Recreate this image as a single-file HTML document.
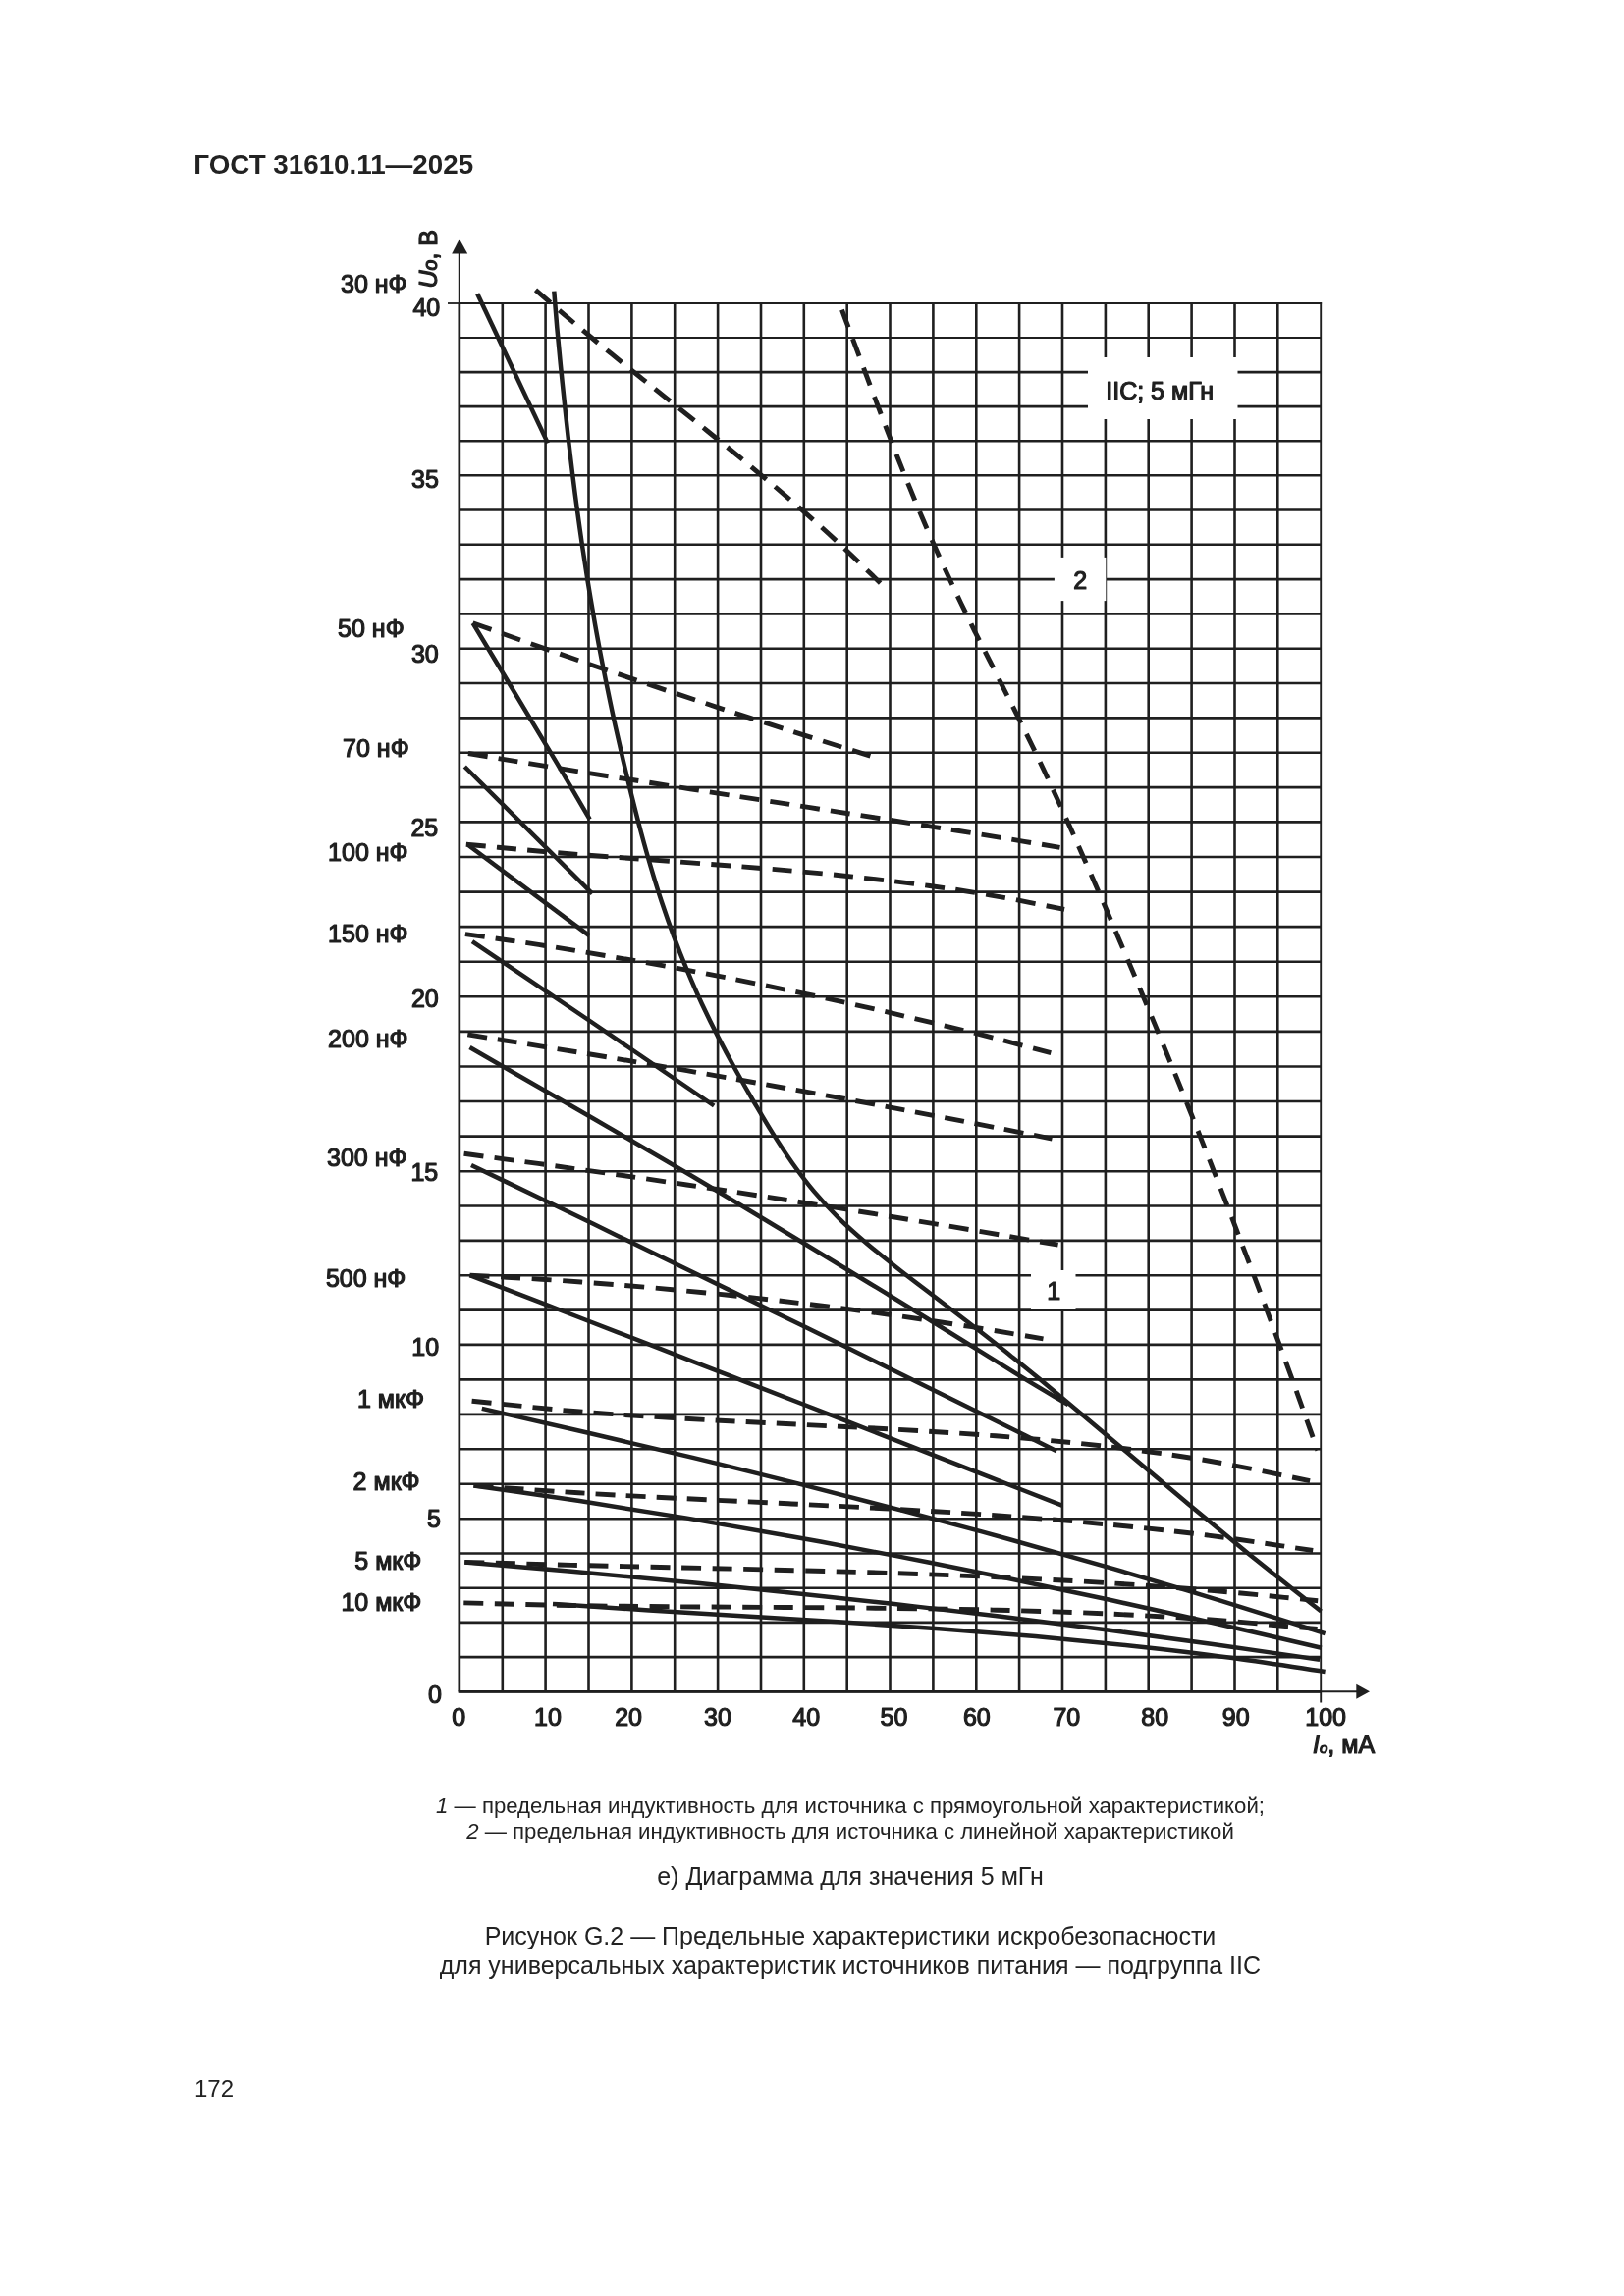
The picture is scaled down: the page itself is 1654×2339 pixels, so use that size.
<!DOCTYPE html>
<html lang="ru"><head><meta charset="utf-8"><title>ГОСТ 31610.11—2025</title>
<style>
html,body{margin:0;padding:0;background:#fff;}
body{width:1654px;height:2339px;position:relative;overflow:hidden;}
svg{position:absolute;left:0;top:0;display:block;will-change:transform;}
svg text{font-family:"Liberation Sans",Arial,sans-serif;fill:#1f1f1f;stroke:#1f1f1f;stroke-width:1.2px;stroke-linejoin:round;}
svg text.b{stroke:none;fill:#222;}
</style></head><body>
<svg width="1654" height="2339" viewBox="0 0 1654 2339">
<path d="M467.9 309.0V1723.3M511.8 309.0V1723.3M555.6 309.0V1723.3M599.5 309.0V1723.3M643.4 309.0V1723.3M687.2 309.0V1723.3M731.1 309.0V1723.3M775.0 309.0V1723.3M818.8 309.0V1723.3M862.7 309.0V1723.3M906.5 309.0V1723.3M950.4 309.0V1723.3M994.3 309.0V1723.3M1038.1 309.0V1723.3M1082.0 309.0V1723.3M1125.9 309.0V1723.3M1169.7 309.0V1723.3M1213.6 309.0V1723.3M1257.5 309.0V1723.3M1301.3 309.0V1723.3M467.9 1723.3H1345.2M467.9 1688.1H1345.2M467.9 1652.9H1345.2M467.9 1617.7H1345.2M467.9 1582.5H1345.2M467.9 1547.3H1345.2M467.9 1511.8H1345.2M467.9 1476.3H1345.2M467.9 1440.9H1345.2M467.9 1405.4H1345.2M467.9 1369.9H1345.2M467.9 1334.6H1345.2M467.9 1299.2H1345.2M467.9 1263.9H1345.2M467.9 1228.5H1345.2M467.9 1193.2H1345.2M467.9 1157.6H1345.2M467.9 1122.0H1345.2M467.9 1086.5H1345.2M467.9 1050.9H1345.2M467.9 1015.3H1345.2M467.9 979.7H1345.2M467.9 944.1H1345.2M467.9 908.6H1345.2M467.9 873.0H1345.2M467.9 837.4H1345.2M467.9 802.1H1345.2M467.9 766.7H1345.2M467.9 731.4H1345.2M467.9 696.0H1345.2M467.9 660.7H1345.2M467.9 625.4H1345.2M467.9 590.1H1345.2M467.9 554.8H1345.2M467.9 519.5H1345.2M467.9 484.2H1345.2M467.9 449.2H1345.2M467.9 414.1H1345.2M467.9 379.1H1345.2" stroke="#1f1f1f" stroke-width="2.6" fill="none"/>
<path d="M467.9 344.0H1345.2" stroke="#1f1f1f" stroke-width="2.1" fill="none"/>
<path d="M467.9 309.0H1346.1" stroke="#1f1f1f" stroke-width="1.9" fill="none"/>
<path d="M467.9 1724.3V250" stroke="#1f1f1f" stroke-width="2.2" fill="none"/>
<path d="M466.7 1723.3H1345.2" stroke="#1f1f1f" stroke-width="2.7" fill="none"/>
<path d="M1345.2 1723.3H1385" stroke="#1f1f1f" stroke-width="1.9" fill="none"/>
<path d="M456 309.0H467.9" stroke="#1f1f1f" stroke-width="1.8" fill="none"/>
<path d="M1345.2 308.0V1734.5" stroke="#1f1f1f" stroke-width="1.9" fill="none"/>
<path d="M467.9 243.5L460.2 258.6H476.2Z" fill="#1f1f1f"/>
<path d="M1395 1723.3L1381.3 1715.8V1730.8Z" fill="#1f1f1f"/>
<rect x="1108" y="364" width="152.5" height="63" fill="#fff"/>
<rect x="1073.9" y="567.9" width="52.4" height="44.2" fill="#fff"/>
<rect x="1050" y="1294" width="45.5" height="40" fill="#fff"/>
<path d="M486.2 299.2L557.9 451.4" stroke="#1f1f1f" stroke-width="4.5" fill="none"/>
<path d="M481.6 634.8C507.7 678.3 540.1 732.1 560.0 765.4C579.9 798.7 587.1 811.5 600.7 834.6" stroke="#1f1f1f" stroke-width="4.5" fill="none"/>
<path d="M473.3 781.0L603.2 910.3" stroke="#1f1f1f" stroke-width="4.5" fill="none"/>
<path d="M477.0 861.0L600.1 953.1" stroke="#1f1f1f" stroke-width="4.5" fill="none"/>
<path d="M481.0 959.2C520.7 986.0 559.0 1011.6 600.0 1039.5C641.0 1067.4 684.8 1097.5 727.2 1126.5" stroke="#1f1f1f" stroke-width="4.5" fill="none"/>
<path d="M478.5 1067.0C552.3 1109.8 628.7 1153.1 700.0 1195.3C771.3 1237.5 850.1 1285.7 906.5 1320.0C962.9 1354.3 1008.0 1382.9 1038.2 1401.4C1068.5 1419.9 1071.4 1421.1 1088.0 1431.0" stroke="#1f1f1f" stroke-width="4.5" fill="none"/>
<path d="M480.0 1187.0C504.8 1198.9 529.7 1210.9 554.5 1222.8C579.4 1234.8 604.2 1246.8 629.0 1258.9C653.9 1270.9 678.7 1283.0 703.5 1295.0C728.4 1307.1 753.2 1319.2 778.0 1331.4C802.9 1343.5 827.7 1355.7 852.6 1367.8C877.4 1380.0 902.2 1392.2 927.1 1404.5C951.9 1416.7 976.7 1429.0 1001.6 1441.3C1026.4 1453.5 1051.3 1465.9 1076.1 1478.2" stroke="#1f1f1f" stroke-width="4.5" fill="none"/>
<path d="M478.5 1299.1C503.6 1308.8 528.8 1318.5 553.9 1328.2C579.0 1337.9 604.2 1347.6 629.3 1357.3C654.4 1367.1 679.6 1376.8 704.7 1386.6C729.8 1396.3 755.0 1406.1 780.1 1415.8C805.2 1425.6 830.4 1435.4 855.5 1445.2C880.6 1455.0 905.8 1464.8 930.9 1474.6C956.0 1484.5 981.2 1494.3 1006.3 1504.1C1031.4 1514.0 1056.6 1523.9 1081.7 1533.7" stroke="#1f1f1f" stroke-width="4.5" fill="none"/>
<path d="M490.8 1434.9C526.6 1443.1 562.4 1451.1 598.1 1459.5C633.9 1467.8 669.7 1476.2 705.5 1484.9C741.3 1493.6 777.1 1502.4 812.8 1511.4C848.6 1520.4 884.4 1529.6 920.2 1539.1C956.0 1548.5 991.8 1558.1 1027.5 1568.0C1063.3 1577.9 1099.1 1588.0 1134.9 1598.4C1170.7 1608.8 1206.5 1619.5 1242.2 1630.4C1278.0 1641.4 1313.8 1652.9 1349.6 1664.1" stroke="#1f1f1f" stroke-width="4.5" fill="none"/>
<path d="M482.5 1513.4C518.5 1518.6 554.4 1523.6 590.4 1529.1C626.4 1534.6 662.4 1540.3 698.4 1546.4C734.3 1552.4 770.3 1558.7 806.3 1565.2C842.3 1571.7 878.2 1578.5 914.2 1585.4C950.2 1592.4 986.1 1599.6 1022.1 1607.0C1058.1 1614.4 1094.1 1622.0 1130.1 1629.8C1166.0 1637.6 1202.0 1645.6 1238.0 1653.8C1274.0 1662.0 1309.9 1670.5 1345.9 1678.8" stroke="#1f1f1f" stroke-width="4.5" fill="none"/>
<path d="M473.3 1591.4C509.6 1594.5 545.9 1597.4 582.1 1600.7C618.4 1603.9 654.7 1607.3 691.0 1610.9C727.3 1614.4 763.6 1618.1 799.8 1621.9C836.1 1625.7 872.4 1629.7 908.7 1633.8C945.0 1637.9 981.3 1642.2 1017.5 1646.6C1053.8 1651.0 1090.1 1655.6 1126.4 1660.3C1162.7 1665.1 1199.0 1670.0 1235.2 1675.0C1271.5 1680.1 1307.8 1685.5 1344.1 1690.7" stroke="#1f1f1f" stroke-width="4.5" fill="none"/>
<path d="M563.0 1634.0C595.8 1636.1 628.6 1638.3 661.3 1640.4C694.1 1642.4 726.9 1644.3 759.6 1646.4C792.4 1648.4 825.2 1650.3 858.0 1652.5C890.7 1654.6 923.5 1656.8 956.3 1659.2C989.1 1661.7 1021.9 1664.2 1054.6 1667.1C1087.4 1670.1 1120.2 1673.2 1152.9 1676.7C1185.7 1680.3 1218.5 1684.1 1251.3 1688.5C1284.0 1692.8 1316.8 1698.1 1349.6 1702.9" stroke="#1f1f1f" stroke-width="4.5" fill="none"/>
<path d="M545.5 295.4C560.1 307.9 574.8 320.7 589.4 333.0C604.0 345.3 618.6 357.2 633.3 369.1C647.9 381.0 662.5 392.6 677.2 404.4C691.8 416.1 706.4 427.7 721.0 439.5C735.7 451.4 750.3 463.2 764.9 475.4C779.6 487.5 794.2 499.8 808.8 512.5C823.5 525.3 838.1 538.2 852.7 551.8C867.3 565.4 882.0 579.9 896.6 593.9" stroke="#1f1f1f" stroke-width="4.9" stroke-dasharray="20.00 11.57" fill="none"/>
<path d="M481.6 634.7C498.5 640.7 515.3 646.8 532.2 652.8C549.1 658.7 565.9 664.6 582.8 670.5C599.7 676.4 616.5 682.2 633.4 687.9C650.3 693.7 667.1 699.4 684.0 705.0C700.9 710.6 717.7 716.2 734.6 721.8C751.5 727.3 768.3 732.8 785.2 738.2C802.1 743.6 818.9 749.0 835.8 754.3C852.7 759.6 869.5 764.8 886.4 770.1" stroke="#1f1f1f" stroke-width="4.9" stroke-dasharray="20.00 11.36" fill="none"/>
<path d="M476.9 767.5C502.0 771.6 527.1 775.8 552.2 779.9C577.3 784.0 602.4 788.0 627.5 792.0C652.7 795.9 677.8 799.8 702.9 803.8C728.0 807.7 753.1 811.5 778.2 815.4C803.3 819.3 828.4 823.2 853.5 827.1C878.6 831.0 903.7 834.9 928.9 838.9C954.0 842.9 979.1 846.9 1004.2 850.9C1029.3 855.0 1054.4 859.2 1079.5 863.3" stroke="#1f1f1f" stroke-width="4.9" stroke-dasharray="20.00 11.13" fill="none"/>
<path d="M474.8 860.2C500.2 862.5 525.6 865.1 551.0 867.3C576.4 869.5 601.7 871.4 627.1 873.3C652.5 875.2 677.9 877.0 703.3 878.9C728.7 880.8 754.1 882.6 779.5 884.8C804.8 886.9 830.2 889.1 855.6 891.7C881.0 894.4 906.4 897.2 931.8 900.5C957.2 903.8 982.5 907.5 1007.9 911.8C1033.3 916.1 1058.7 921.5 1084.1 926.3" stroke="#1f1f1f" stroke-width="4.9" stroke-dasharray="20.00 11.29" fill="none"/>
<path d="M473.9 951.6C498.7 955.2 523.6 958.6 548.4 962.4C573.3 966.3 598.1 970.3 623.0 974.6C647.9 978.8 672.7 983.2 697.5 987.9C722.4 992.5 747.2 997.3 772.1 1002.4C796.9 1007.4 821.8 1012.7 846.6 1018.1C871.5 1023.6 896.3 1029.2 921.2 1035.1C946.0 1040.9 970.9 1047.0 995.8 1053.2C1020.6 1059.5 1045.5 1066.1 1070.3 1072.6" stroke="#1f1f1f" stroke-width="4.9" stroke-dasharray="20.00 11.06" fill="none"/>
<path d="M476.3 1053.9C501.1 1057.9 525.9 1061.8 550.7 1065.8C575.5 1069.8 600.3 1073.9 625.1 1078.0C649.9 1082.2 674.7 1086.4 699.5 1090.7C724.3 1095.0 749.1 1099.3 773.9 1103.8C798.7 1108.2 823.5 1112.7 848.3 1117.2C873.1 1121.8 897.9 1126.4 922.7 1131.1C947.5 1135.8 972.3 1140.6 997.1 1145.4C1021.9 1150.2 1046.7 1155.2 1071.5 1160.1" stroke="#1f1f1f" stroke-width="4.9" stroke-dasharray="20.00 10.83" fill="none"/>
<path d="M472.6 1175.3C497.8 1178.7 523.0 1182.0 548.2 1185.4C573.4 1188.9 598.6 1192.4 623.9 1196.0C649.1 1199.6 674.3 1203.2 699.5 1207.0C724.7 1210.7 749.9 1214.5 775.1 1218.4C800.3 1222.3 825.5 1226.2 850.7 1230.2C875.9 1234.2 901.1 1238.3 926.3 1242.5C951.6 1246.6 976.8 1250.8 1002.0 1255.1C1027.2 1259.4 1052.4 1263.8 1077.6 1268.2" stroke="#1f1f1f" stroke-width="4.9" stroke-dasharray="20.00 11.23" fill="none"/>
<path d="M478.5 1299.1C502.8 1300.5 527.2 1301.7 551.5 1303.2C575.8 1304.8 600.2 1306.6 624.5 1308.5C648.8 1310.4 673.2 1312.6 697.5 1314.9C721.8 1317.2 746.2 1319.7 770.5 1322.4C794.8 1325.1 819.2 1328.0 843.5 1331.0C867.8 1334.1 892.2 1337.4 916.5 1340.8C940.8 1344.3 965.2 1347.9 989.5 1351.7C1013.8 1355.6 1038.2 1359.8 1062.5 1363.8" stroke="#1f1f1f" stroke-width="4.9" stroke-dasharray="20.00 11.62" fill="none"/>
<path d="M480.6 1427.2C516.2 1430.7 551.7 1434.8 587.3 1437.8C622.9 1440.8 658.4 1442.9 694.0 1445.0C729.5 1447.2 765.1 1448.7 800.7 1450.5C836.2 1452.4 871.8 1453.9 907.3 1455.9C942.9 1458.0 978.5 1460.0 1014.0 1462.8C1049.6 1465.6 1085.2 1468.7 1120.7 1472.8C1156.3 1476.9 1191.8 1481.5 1227.4 1487.5C1263.0 1493.5 1298.5 1501.6 1334.1 1508.6" stroke="#1f1f1f" stroke-width="4.9" stroke-dasharray="20.00 11.11" fill="none"/>
<path d="M482.5 1513.4C518.1 1515.9 553.7 1518.6 589.3 1520.8C624.9 1523.0 660.6 1524.8 696.2 1526.6C731.8 1528.5 767.4 1530.0 803.0 1531.8C838.6 1533.6 874.2 1535.3 909.9 1537.3C945.5 1539.3 981.1 1541.3 1016.7 1543.9C1052.3 1546.4 1087.9 1549.1 1123.5 1552.5C1159.1 1555.9 1194.8 1559.6 1230.4 1564.1C1266.0 1568.6 1301.6 1574.3 1337.2 1579.5" stroke="#1f1f1f" stroke-width="4.9" stroke-dasharray="20.00 11.09" fill="none"/>
<path d="M473.3 1591.4C509.5 1592.4 545.7 1593.4 581.9 1594.4C618.1 1595.3 654.3 1596.0 690.5 1596.9C726.7 1597.7 762.9 1598.5 799.1 1599.5C835.3 1600.4 871.5 1601.3 907.8 1602.5C944.0 1603.8 980.2 1605.1 1016.4 1606.7C1052.6 1608.4 1088.8 1610.2 1125.0 1612.4C1161.2 1614.7 1197.4 1617.2 1233.6 1620.3C1269.8 1623.3 1306.0 1627.2 1342.2 1630.7" stroke="#1f1f1f" stroke-width="4.9" stroke-dasharray="20.00 11.55" fill="none"/>
<path d="M472.3 1632.9C508.5 1633.8 544.7 1634.9 581.0 1635.5C617.2 1636.2 653.4 1636.5 689.6 1636.8C725.8 1637.1 762.1 1637.2 798.3 1637.5C834.5 1637.7 870.7 1637.9 907.0 1638.4C943.2 1638.8 979.4 1639.3 1015.6 1640.2C1051.8 1641.1 1088.1 1642.2 1124.3 1643.8C1160.5 1645.5 1196.7 1647.4 1232.9 1650.0C1269.2 1652.6 1305.4 1656.3 1341.6 1659.5" stroke="#1f1f1f" stroke-width="4.9" stroke-dasharray="20.00 11.55" fill="none"/>
<path d="M564.3 296.6C565.3 309.0 566.2 321.5 567.3 333.8C568.4 346.1 569.6 358.4 570.8 370.7C572.0 383.0 573.3 395.4 574.6 407.7C575.9 420.0 577.2 432.4 578.6 444.7C580.0 457.0 581.5 469.4 583.0 481.7C584.5 494.0 586.1 506.4 587.8 518.7C589.5 531.0 591.2 543.4 593.0 555.7C594.8 568.0 596.7 580.3 598.7 592.6C600.7 604.9 602.8 617.1 604.9 629.4C607.0 641.7 609.3 654.0 611.6 666.2C613.9 678.4 616.4 690.6 618.9 702.8C621.4 715.0 623.9 727.1 626.6 739.2C629.3 751.3 632.1 763.4 634.9 775.5C637.7 787.6 640.6 799.6 643.6 811.6C646.6 823.6 649.6 835.6 652.8 847.5C656.0 859.4 659.3 871.4 662.8 883.2C666.3 895.0 669.9 906.8 673.8 918.5C677.7 930.2 681.8 942.0 686.1 953.6C690.4 965.2 695.0 976.9 699.8 988.4C704.6 999.9 709.6 1011.4 714.9 1022.7C720.2 1034.0 725.7 1045.3 731.4 1056.4C737.1 1067.5 743.0 1078.6 749.0 1089.5C755.0 1100.4 761.2 1111.3 767.5 1122.0C773.8 1132.7 780.0 1143.5 786.6 1153.9C793.2 1164.4 799.8 1174.7 806.9 1184.7C814.0 1194.7 821.3 1204.5 829.2 1213.9C837.1 1223.3 845.6 1232.4 854.4 1241.1C863.2 1249.8 872.7 1258.1 882.2 1266.2C891.7 1274.3 901.7 1282.2 911.5 1289.9C921.3 1297.7 931.2 1305.2 941.1 1312.7C951.0 1320.2 960.8 1327.7 970.6 1335.2C980.4 1342.7 990.2 1350.2 1000.0 1357.8C1009.8 1365.4 1019.5 1373.2 1029.2 1380.9C1038.9 1388.7 1048.5 1396.4 1058.1 1404.3C1067.7 1412.2 1077.2 1420.2 1086.8 1428.2C1096.3 1436.2 1105.9 1444.2 1115.4 1452.2C1124.9 1460.2 1134.4 1468.2 1143.9 1476.2C1153.4 1484.2 1162.9 1492.2 1172.4 1500.2C1181.9 1508.2 1191.4 1516.2 1200.9 1524.2C1210.4 1532.2 1220.0 1540.2 1229.5 1548.1C1239.0 1556.0 1248.6 1563.9 1258.2 1571.8C1267.8 1579.7 1277.4 1587.5 1287.1 1595.3C1296.8 1603.1 1306.5 1610.9 1316.2 1618.6C1325.9 1626.3 1335.7 1633.9 1345.5 1641.6" stroke="#1f1f1f" stroke-width="4.5" fill="none"/>
<path d="M857.5 315.7C861.3 326.0 865.2 336.4 869.0 346.6C872.8 356.8 876.6 367.0 880.4 377.1C884.2 387.2 888.0 397.4 891.8 407.5C895.6 417.6 899.4 427.6 903.2 437.6C907.0 447.6 910.9 457.6 914.8 467.5C918.7 477.4 922.7 487.3 926.7 497.2C930.7 507.1 934.8 517.0 939.0 526.8C943.2 536.6 947.4 546.4 951.8 556.2C956.1 566.0 960.6 575.8 965.1 585.5C969.6 595.2 974.2 605.0 978.9 614.7C983.6 624.4 988.3 634.1 993.1 643.8C997.9 653.5 1002.9 663.1 1007.8 672.8C1012.7 682.5 1017.6 692.2 1022.5 701.9C1027.4 711.6 1032.3 721.2 1037.1 730.9C1041.9 740.6 1046.7 750.3 1051.4 760.0C1056.1 769.7 1060.7 779.4 1065.3 789.1C1069.9 798.8 1074.3 808.5 1078.8 818.3C1083.3 828.0 1087.7 837.8 1092.1 847.6C1096.5 857.4 1100.8 867.2 1105.1 877.0C1109.4 886.8 1113.7 896.6 1118.0 906.4C1122.3 916.2 1126.6 926.0 1130.8 935.9C1135.0 945.8 1139.2 955.6 1143.4 965.5C1147.6 975.4 1151.8 985.3 1156.0 995.2C1160.2 1005.1 1164.3 1015.1 1168.4 1025.0C1172.5 1034.9 1176.7 1044.8 1180.8 1054.8C1184.9 1064.8 1188.9 1074.7 1193.0 1084.7C1197.1 1094.7 1201.2 1104.7 1205.2 1114.7C1209.2 1124.7 1213.2 1134.8 1217.2 1144.8C1221.2 1154.8 1225.1 1164.8 1229.1 1174.8C1233.0 1184.8 1237.0 1195.0 1240.9 1205.0C1244.8 1215.0 1248.7 1225.0 1252.6 1235.1C1256.5 1245.1 1260.3 1255.2 1264.1 1265.3C1267.9 1275.4 1271.8 1285.5 1275.6 1295.6C1279.4 1305.7 1283.2 1315.7 1286.9 1325.8C1290.7 1335.9 1294.4 1346.0 1298.1 1356.1C1301.8 1366.2 1305.5 1376.3 1309.2 1386.4C1312.9 1396.5 1316.6 1406.6 1320.2 1416.7C1323.8 1426.8 1327.4 1436.9 1331.0 1447.0C1334.6 1457.1 1338.2 1467.2 1341.8 1477.3" stroke="#1f1f1f" stroke-width="4.9" stroke-dasharray="18.9 12.55" fill="none"/>
<text x="414.6" y="297.6" font-size="25.0" text-anchor="end" >30 нФ</text>
<text x="411.7" y="648.9" font-size="25.0" text-anchor="end" >50 нФ</text>
<text x="416.7" y="770.5" font-size="25.0" text-anchor="end" >70 нФ</text>
<text x="415.6" y="877.2" font-size="25.0" text-anchor="end" >100 нФ</text>
<text x="415.6" y="960.2" font-size="25.0" text-anchor="end" >150 нФ</text>
<text x="415.6" y="1066.5" font-size="25.0" text-anchor="end" >200 нФ</text>
<text x="414.5" y="1188.2" font-size="25.0" text-anchor="end" >300 нФ</text>
<text x="413.4" y="1310.7" font-size="25.0" text-anchor="end" >500 нФ</text>
<text x="431.9" y="1433.5" font-size="25.0" text-anchor="end" >1 мкФ</text>
<text x="427.6" y="1517.5" font-size="25.0" text-anchor="end" >2 мкФ</text>
<text x="429.3" y="1599.0" font-size="25.0" text-anchor="end" >5 мкФ</text>
<text x="429.3" y="1640.5" font-size="25.0" text-anchor="end" >10 мкФ</text>
<text x="448.2" y="321.8" font-size="25.0" text-anchor="end" >40</text>
<text x="446.9" y="496.6" font-size="25.0" text-anchor="end" >35</text>
<text x="446.7" y="675.1" font-size="25.0" text-anchor="end" >30</text>
<text x="446.2" y="851.6" font-size="25.0" text-anchor="end" >25</text>
<text x="446.7" y="1026.0" font-size="25.0" text-anchor="end" >20</text>
<text x="446.2" y="1203.3" font-size="25.0" text-anchor="end" >15</text>
<text x="447.1" y="1381.2" font-size="25.0" text-anchor="end" >10</text>
<text x="448.8" y="1556.2" font-size="25.0" text-anchor="end" >5</text>
<text x="450.0" y="1734.8" font-size="25.0" text-anchor="end" >0</text>
<text x="467.3" y="1758.2" font-size="25.0" text-anchor="middle" >0</text>
<text x="557.9" y="1758.2" font-size="25.0" text-anchor="middle" >10</text>
<text x="640.1" y="1758.2" font-size="25.0" text-anchor="middle" >20</text>
<text x="731.0" y="1758.2" font-size="25.0" text-anchor="middle" >30</text>
<text x="821.2" y="1758.2" font-size="25.0" text-anchor="middle" >40</text>
<text x="910.5" y="1758.2" font-size="25.0" text-anchor="middle" >50</text>
<text x="994.8" y="1758.0" font-size="25.0" text-anchor="middle" >60</text>
<text x="1086.3" y="1758.0" font-size="25.0" text-anchor="middle" >70</text>
<text x="1176.2" y="1758.0" font-size="25.0" text-anchor="middle" >80</text>
<text x="1258.7" y="1758.0" font-size="25.0" text-anchor="middle" >90</text>
<text x="1350.1" y="1758.0" font-size="25.0" text-anchor="middle" >100</text>
<text x="1181.2" y="406.8" font-size="25.0" text-anchor="middle" >IIC; 5 мГн</text>
<text x="1100.1" y="599.8" font-size="25.0" text-anchor="middle" >2</text>
<text x="1073.3" y="1324.4" font-size="25.0" text-anchor="middle" >1</text>
<text x="1337" y="1786.2" font-size="25.0"><tspan font-style="italic">I</tspan><tspan font-style="italic" font-size="15" dy="0">o</tspan>, мА</text>
<text transform="translate(444.8 293.5) rotate(-90)" font-size="25.0"><tspan font-style="italic">U</tspan><tspan font-style="italic" font-size="19.5">o</tspan>, В</text>
<text class="b" x="197.3" y="177.3" font-size="27.78" text-anchor="start" font-weight="bold">ГОСТ 31610.11—2025</text>
<text class="b" x="866" y="1846.7" font-size="22.2" text-anchor="middle" ><tspan font-style="italic">1</tspan> — предельная индуктивность для источника с прямоугольной характеристикой;</text>
<text class="b" x="866" y="1872.7" font-size="22.2" text-anchor="middle" ><tspan font-style="italic">2</tspan> — предельная индуктивность для источника с линейной характеристикой</text>
<text class="b" x="866" y="1919.8" font-size="25" text-anchor="middle" >е) Диаграмма для значения 5 мГн</text>
<text class="b" x="866" y="1980.9" font-size="25" text-anchor="middle" >Рисунок G.2 — Предельные характеристики искробезопасности</text>
<text class="b" x="865.9" y="2010.6" font-size="25" text-anchor="middle" >для универсальных характеристик источников питания — подгруппа IIC</text>
<text class="b" x="198" y="2136" font-size="24" text-anchor="start" >172</text>
</svg>
</body></html>
